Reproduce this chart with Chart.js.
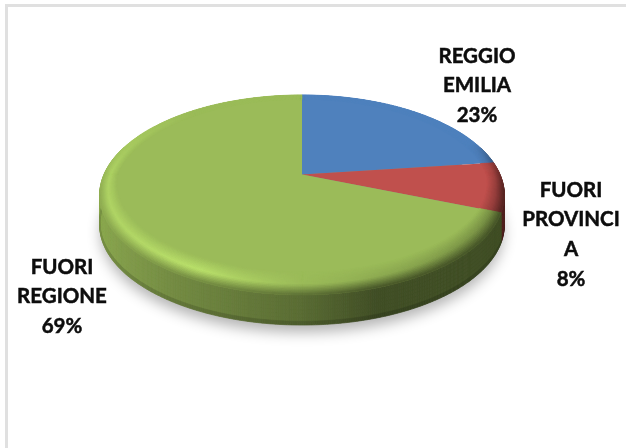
<!DOCTYPE html>
<html>
<head>
<meta charset="utf-8">
<title>Provenienza</title>
<style>
  body { margin: 0; background: #fff; }
  #wrap { position: relative; width: 626px; height: 448px; overflow: hidden; }
  #frame { position: absolute; left: 5px; top: 4px; width: 640px; height: 460px; border-left: 3px solid #e0e0e0; border-top: 3px solid #e0e0e0; }
  canvas { position: absolute; left: 0; top: 0; }
</style>
<script src="https://cdn.jsdelivr.net/npm/chart.js@4"></script>
</head>
<body>
<div id="wrap">
  <div id="frame"></div>
  <canvas id="myChart" width="626" height="448"></canvas>
</div>
<script>
'use strict';
const categories = ['REGGIO EMILIA', 'FUORI PROVINCIA', 'FUORI REGIONE'];
const percentages = [23, 8, 69];
const sliceColors = [[79, 129, 189], [192, 80, 77], [155, 187, 89]];
const labelLines = [['REGGIO', 'EMILIA'], ['FUORI', 'PROVINCI', 'A'], ['FUORI', 'REGIONE']];
const labelSpots = [[477, 56], [571, 190], [62, 267]];

// perspective of the tilted disc
const tiltK = 0.205;
const tiltY = 0.484;
const apexLift = 49.5;
const wallDepth = 30;
const step = Math.PI / 360;

function project(arc, angle, r, drop) {
  let u = Math.cos(angle) * r;
  let v = Math.sin(angle) * r;
  let w = 1 - tiltK * v;
  return [
    arc.x + arc.outerRadius * u / w,
    arc.y - apexLift + drop + arc.outerRadius * tiltY * v / w
  ];
}

function clamp(n) {
  return Math.max(0, Math.min(1, n));
}

function mix(a, b, t) {
  return [a[0] + (b[0] - a[0]) * t, a[1] + (b[1] - a[1]) * t, a[2] + (b[2] - a[2]) * t];
}

function css(c) {
  return `rgb(${Math.round(c[0])},${Math.round(c[1])},${Math.round(c[2])})`;
}

function scale(c, f) {
  return [Math.min(255, c[0] * f), Math.min(255, c[1] * f), Math.min(255, c[2] * f)];
}

// wall brightness falls off from left to right
function wallShade(u) {
  if (u < -0.5) return 0.74 + (-0.5 - u) * 0.36;
  if (u < 0) return 0.58 + -u * 0.32;
  if (u < 0.3) return 0.58 - u * 0.53;
  return 0.42;
}

function quad(ctx, a, b, c, d, color) {
  ctx.beginPath();
  ctx.moveTo(a[0], a[1]);
  ctx.lineTo(b[0], b[1]);
  ctx.lineTo(c[0], c[1]);
  ctx.lineTo(d[0], d[1]);
  ctx.closePath();
  ctx.fillStyle = color;
  ctx.strokeStyle = color;
  ctx.lineWidth = 0.7;
  ctx.fill();
  ctx.stroke();
}

function drawShadow(ctx, arc) {
  ctx.save();
  ctx.shadowColor = 'rgba(0,0,0,0.3)';
  ctx.shadowBlur = 14;
  ctx.shadowOffsetY = 8;
  ctx.fillStyle = '#8a8a8a';
  ctx.beginPath();
  for (let a = 0; a < Math.PI * 2; a += step) {
    let p = project(arc, a, 0.995, wallDepth);
    ctx.lineTo(p[0], p[1]);
  }
  ctx.closePath();
  ctx.fill();
  ctx.restore();
}

function drawWall(ctx, arc, base) {
  const rows = 8;
  for (let a = arc.startAngle; a < arc.endAngle; a += step) {
    let next = Math.min(a + step, arc.endAngle);
    if (Math.sin(a) < -0.3) continue;
    let f = wallShade(Math.cos(a));
    for (let i = 0; i < rows; i++) {
      let d1 = wallDepth * i / rows;
      let d2 = wallDepth * (i + 1) / rows;
      let edge = i === rows - 1 ? 0.85 : 1;
      let color = css(scale(base, f * edge));
      quad(ctx, project(arc, a, 1, d1), project(arc, next, 1, d1), project(arc, next, 1, d2), project(arc, a, 1, d2), color);
    }
  }
}

function drawTop(ctx, arc, base) {
  ctx.beginPath();
  ctx.moveTo(arc.x, arc.y - apexLift);
  for (let a = arc.startAngle; a < arc.endAngle; a += step) {
    let p = project(arc, a, 1, 0);
    ctx.lineTo(p[0], p[1]);
  }
  let last = project(arc, arc.endAngle, 1, 0);
  ctx.lineTo(last[0], last[1]);
  ctx.closePath();
  ctx.fillStyle = css(base);
  ctx.fill();
}

// rounded edge of the disc: lit towards the lower left, dark towards the right
function drawBevel(ctx, arc, base) {
  const rings = 16;
  for (let a = arc.startAngle; a < arc.endAngle; a += step) {
    let next = Math.min(a + step, arc.endAngle);
    let u = Math.cos(a);
    let v = Math.sin(a);
    let width = 0.07 + 0.09 * Math.max(v, 0);
    let lit = clamp(-u * 2.2) * clamp(1 + v * 1.3) * (u < -0.5 ? 1 + (u + 0.5) * 0.7 : 1);
    let shaded = clamp((v + 0.35) / 0.5);
    let bright = mix(base, scale(base, 1.2), lit);
    if (u > 0) bright = mix(bright, scale(base, wallShade(u)), clamp(u * 1.1) * 0.4 * shaded);
    let dark = scale(base, wallShade(u));
    for (let i = 0; i < rings; i++) {
      let t = (i + 0.5) / rings;
      let color = t < 0.55
        ? mix(base, bright, t / 0.55)
        : mix(bright, dark, (t - 0.55) / 0.45 * shaded * 0.95);
      let r1 = 1 - width * (1 - i / rings);
      let r2 = 1 - width * (1 - (i + 1) / rings);
      quad(ctx, project(arc, a, r1, 0), project(arc, next, r1, 0), project(arc, next, r2, 0), project(arc, a, r2, 0), css(color));
    }
  }
}

const tiltedPie = {
  id: 'tiltedPie',
  beforeDatasetDraw(chart) {
    const ctx = chart.ctx;
    const arcs = chart.getDatasetMeta(0).data;
    drawShadow(ctx, arcs[0]);
    arcs.forEach((arc, i) => drawWall(ctx, arc, sliceColors[i]));
    arcs.forEach((arc, i) => drawTop(ctx, arc, sliceColors[i]));
    arcs.forEach((arc, i) => drawBevel(ctx, arc, sliceColors[i]));
    return false;
  },
  afterDraw(chart) {
    const ctx = chart.ctx;
    ctx.save();
    ctx.font = 'bold 20.5px Lato';
    ctx.textAlign = 'center';
    ctx.textBaseline = 'middle';
    ctx.fillStyle = '#0d0d0d';
    ctx.strokeStyle = '#0d0d0d';
    ctx.lineWidth = 0.5;
    labelLines.forEach((lines, i) => {
      let rows = lines.concat(percentages[i] + '%');
      rows.forEach((row, j) => {
        ctx.fillText(row, labelSpots[i][0], labelSpots[i][1] + j * 29.7);
        ctx.strokeText(row, labelSpots[i][0], labelSpots[i][1] + j * 29.7);
      });
    });
    ctx.restore();
  }
};

const ctx = document.getElementById('myChart').getContext('2d');

let config = {
  type: 'pie',
  data: {
    labels: categories,
    datasets: [{
      data: percentages,
      backgroundColor: sliceColors.map(css),
      borderWidth: 0
    }]
  },
  options: {
    responsive: false,
    animation: false,
    layout: { padding: { left: 104, right: 126, top: 26, bottom: 26 } },
    plugins: {
      legend: { display: false },
      tooltip: { enabled: false }
    }
  },
  plugins: [tiltedPie]
};
const myChart = new Chart(ctx, config);
</script>
</body>
</html>
